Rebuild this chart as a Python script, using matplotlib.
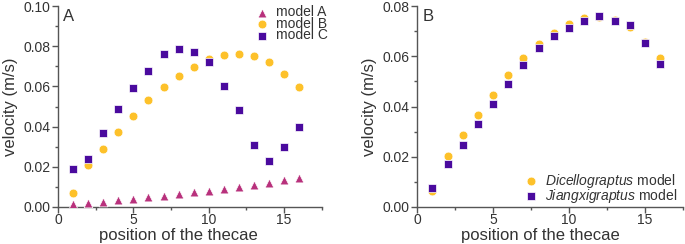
import matplotlib
matplotlib.use('Agg')
import matplotlib.pyplot as plt
from matplotlib.ticker import MultipleLocator, FormatStrFormatter
import numpy as np

plt.rcParams['font.family'] = ['Liberation Sans', 'DejaVu Sans']
plt.rcParams['mathtext.fontset'] = 'custom'
plt.rcParams['mathtext.rm'] = 'Liberation Sans'
plt.rcParams['mathtext.it'] = 'Liberation Sans:italic'

positions = np.arange(1, 17)

# panel A
model_a = [0.0016, 0.0017, 0.0025, 0.0033, 0.0041, 0.0050, 0.0056, 0.0066,
           0.0073, 0.0081, 0.0089, 0.0097, 0.0109, 0.0121, 0.0132, 0.0142]
model_b = [0.0070, 0.0207, 0.0290, 0.0372, 0.0454, 0.0530, 0.0596, 0.0651,
           0.0697, 0.0735, 0.0757, 0.0760, 0.0750, 0.0722, 0.0662, 0.0596]
model_c = [0.0189, 0.0237, 0.0366, 0.0488, 0.0591, 0.0679, 0.0760, 0.0786,
           0.0770, 0.0722, 0.0604, 0.0482, 0.0309, 0.0231, 0.0296, 0.0400]

# panel B
dicello = [0.0065, 0.0201, 0.0285, 0.0367, 0.0447, 0.0526, 0.0592, 0.0649,
           0.0692, 0.0728, 0.0752, 0.0755, 0.0744, 0.0717, 0.0657, 0.0592]
jiangxi = [0.0074, 0.0171, 0.0248, 0.0332, 0.0411, 0.0491, 0.0564, 0.0632,
           0.0681, 0.0711, 0.0739, 0.0760, 0.0742, 0.0724, 0.0654, 0.0570]

MAGENTA = '#b8317c'
YELLOW = '#fdc12a'
PURPLE = '#4a0a9e'
AXIS = '#555555'
TEXT = '#333333'


def style_axes(ax, ymax, label_x):
    """Origin-like axes: left/bottom spines, outward ticks, minor ticks."""
    for side in ['top', 'right']:
        ax.spines[side].set_visible(False)
    for side in ['left', 'bottom']:
        ax.spines[side].set_color(AXIS)
        ax.spines[side].set_linewidth(1.0)
    ax.set_xlim(0, 17.5)
    ax.set_ylim(0, ymax)
    ax.xaxis.set_major_locator(MultipleLocator(5))
    ax.xaxis.set_minor_locator(MultipleLocator(2.5))
    ax.yaxis.set_major_locator(MultipleLocator(0.02))
    ax.yaxis.set_minor_locator(MultipleLocator(0.01))
    ax.yaxis.set_major_formatter(FormatStrFormatter('%.2f'))
    ax.tick_params(which='major', direction='out', length=4, width=1,
                   color=AXIS, labelcolor=TEXT, labelsize=10, pad=1.5)
    ax.tick_params(axis='x', which='major', pad=0.5)
    ax.tick_params(which='minor', direction='out', length=2.5, width=1,
                   color=AXIS)
    ax.set_xlabel('position of the thecae', fontsize=12, color=TEXT)
    ax.xaxis.set_label_coords(label_x, -0.105, transform=ax.transAxes)
    ax.xaxis.label.set_va('top')
    ax.set_ylabel('velocity (m/s)', fontsize=12, color=TEXT, labelpad=4)


fig = plt.figure(figsize=(6.85, 2.44), dpi=100)
ax1 = fig.add_axes([0.0847, 0.152, 0.385, 0.823])
ax2 = fig.add_axes([0.609, 0.152, 0.388, 0.823])

ms = 40
ax1.scatter(positions, model_a, marker='^', s=ms, color=MAGENTA,
            edgecolor='white', linewidth=0.5, label='model A', zorder=3)
ax1.scatter(positions, model_b, marker='o', s=ms, color=YELLOW,
            edgecolor='white', linewidth=0.5, label='model B', zorder=3)
ax1.scatter(positions, model_c, marker='s', s=ms, color=PURPLE,
            edgecolor='white', linewidth=0.5, label='model C', zorder=4)
style_axes(ax1, 0.10, 0.455)
ax1.text(0.02, 0.985, 'A', transform=ax1.transAxes, fontsize=12,
         color=TEXT, va='top', ha='left')
ax1.legend(loc='upper right', bbox_to_anchor=(1.055, 1.045), frameon=False,
           fontsize=10, handletextpad=0.5, labelspacing=-0.18,
           borderaxespad=0.2, handlelength=1.0, scatterpoints=1,
           labelcolor=TEXT)

ax2.scatter(positions, dicello, marker='o', s=ms, color=YELLOW,
            edgecolor='white', linewidth=0.5,
            label=r'$\it{Dicellograptus}$ model', zorder=3)
ax2.scatter(positions, jiangxi, marker='s', s=ms, color=PURPLE,
            edgecolor='white', linewidth=0.5,
            label=r'$\it{Jiangxigraptus}$ model', zorder=4)
style_axes(ax2, 0.08, 0.462)
ax2.text(0.02, 0.985, 'B', transform=ax2.transAxes, fontsize=12,
         color=TEXT, va='top', ha='left')
ax2.legend(loc='lower right', bbox_to_anchor=(1.01, -0.03), frameon=False,
           fontsize=10, handletextpad=0.5, labelspacing=-0.22,
           borderaxespad=0.2, handlelength=1.0, scatterpoints=1,
           labelcolor=TEXT)

fig.savefig('out.png', dpi=100)
